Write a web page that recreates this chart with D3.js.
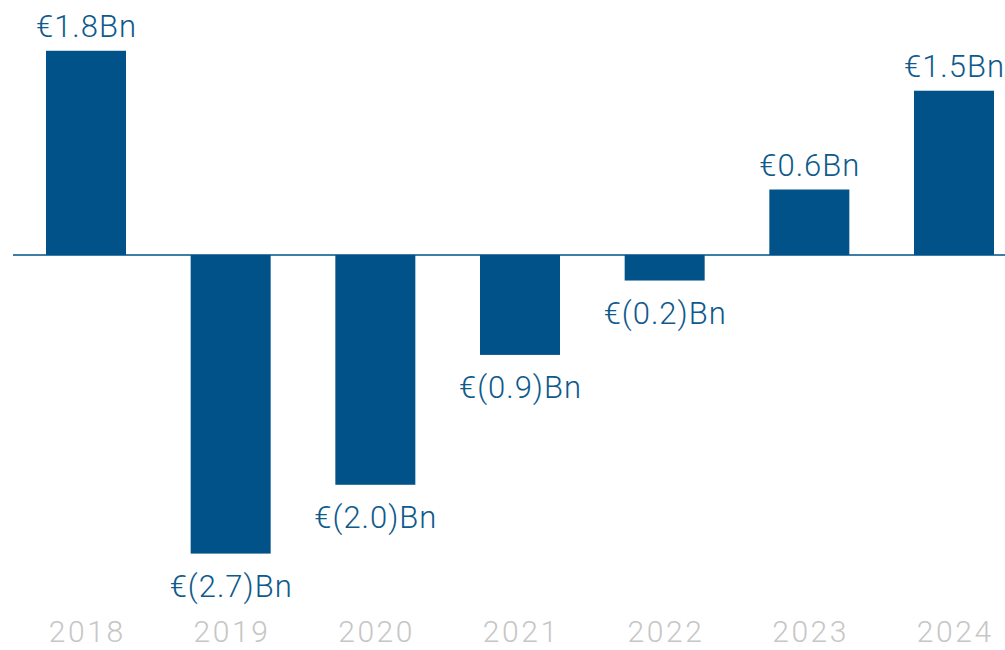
<!DOCTYPE html>
<html>
<head>
<meta charset="utf-8">
<script src="https://cdn.jsdelivr.net/npm/d3@7"></script>
<style>
  body { margin: 0; background: #fff; }
  svg { display: block; }
</style>
</head>
<body>
<svg width="1005" height="650"></svg>
<script>
const width = 1005;
const height = 650;

const years = ["2018", "2019", "2020", "2021", "2022", "2023", "2024"];
const values = [1.84, -2.69, -2.07, -0.90, -0.23, 0.59, 1.48];
const labels = ["€1.8Bn", "€(2.7)Bn", "€(2.0)Bn", "€(0.9)Bn", "€(0.2)Bn", "€0.6Bn", "€1.5Bn"];

const data = years.map((y, i) => ({ year: y, value: values[i], label: labels[i] }));

const BLUE = "#005288";
const LABEL_BLUE = "#0e5a8c";
const GREY = "#c6c6c6";
const FONT = "Roboto, 'Open Sans', sans-serif";

const svg = d3.select("svg");

const x = d3.scaleBand()
  .domain(years)
  .range([0, 1040])
  .paddingInner(0.447)
  .paddingOuter(0.318);

const y = d3.scaleLinear()
  .domain([-3, 2.2])
  .range([588, 10.8]);

// bars
svg.append("g")
  .selectAll("rect")
  .data(data)
  .enter()
  .append("rect")
  .attr("x", d => x(d.year))
  .attr("width", x.bandwidth())
  .attr("y", d => y(Math.max(0, d.value)))
  .attr("height", d => Math.abs(y(d.value) - y(0)))
  .attr("fill", BLUE);

// zero line
svg.append("line")
  .attr("x1", 13)
  .attr("x2", width)
  .attr("y1", y(0))
  .attr("y2", y(0))
  .attr("stroke", BLUE)
  .attr("stroke-width", 1.5);

// value labels (letter-spacing adds a trailing gap, so nudge right by half)
svg.append("g")
  .selectAll("text")
  .data(data)
  .enter()
  .append("text")
  .attr("x", d => x(d.year) + x.bandwidth() / 2 + 0.5)
  .attr("y", d => d.value >= 0 ? y(d.value) - 14 : y(d.value) + 43)
  .attr("text-anchor", "middle")
  .attr("fill", LABEL_BLUE)
  .style("font-family", FONT)
  .style("font-weight", 300)
  .style("font-size", "31px")
  .style("letter-spacing", "1px")
  .text(d => d.label);

// year labels
svg.append("g")
  .selectAll("text")
  .data(data)
  .enter()
  .append("text")
  .attr("x", d => x(d.year) + x.bandwidth() / 2 + 1.3)
  .attr("y", 642)
  .attr("text-anchor", "middle")
  .attr("fill", GREY)
  .style("font-family", FONT)
  .style("font-weight", 300)
  .style("font-size", "30px")
  .style("letter-spacing", "2.6px")
  .text(d => d.year);
</script>
</body>
</html>
